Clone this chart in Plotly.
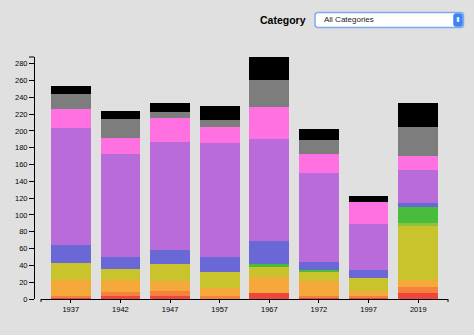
import plotly.graph_objects as go

years = ["1937", "1942", "1947", "1957", "1967", "1972", "1997", "2019"]

red        = [1, 4, 4, 1, 7, 1, 1, 7]
darkorange = [3, 4, 5, 2, 0, 3, 3, 7]
orange     = [19, 15, 13, 10, 19, 17, 5, 9]
yellow     = [20, 13, 20, 19, 12, 12, 16, 64]
lightgreen = [0, 0, 0, 0, 0, 0, 0, 4]
green      = [0, 0, 0, 0, 4, 2, 0, 19]
blue       = [21, 14, 16, 18, 27, 9, 10, 4]
purple     = [139, 122, 129, 136, 122, 106, 54, 39]
pink       = [23, 20, 28, 19, 38, 22, 26, 17]
gray       = [18, 22, 7, 8, 32, 17, 0, 35]
black      = [10, 10, 11, 17, 27, 13, 8, 28]

series = [
    ("Red", red, "#ef453c"),
    ("Dark orange", darkorange, "#f5813c"),
    ("Orange", orange, "#f5a93b"),
    ("Yellow", yellow, "#c9c42b"),
    ("Light green", lightgreen, "#8dc23c"),
    ("Green", green, "#47bd3b"),
    ("Blue", blue, "#6a68d6"),
    ("Purple", purple, "#b96bd9"),
    ("Pink", pink, "#ff70e0"),
    ("Gray", gray, "#7d7d7d"),
    ("Black", black, "#000000"),
]

fig = go.Figure()
for name, vals, col in series:
    fig.add_trace(go.Bar(x=years, y=vals, name=name, marker=dict(color=col, line=dict(width=0))))

ymax = max(sum(v[i] for _, v, _ in series) for i in range(len(years)))

W, H = 474, 335
ml, mr, mt, mb = 34, 26, 57, 36
pw = W - ml - mr
ph = H - mt - mb
xd0 = 7 / pw
FONT = "Liberation Sans, Arial, Helvetica, sans-serif"

fig.update_layout(
    width=W, height=H,
    margin=dict(l=ml, r=mr, t=mt, b=mb),
    barmode="stack", bargap=0.2,
    showlegend=False,
    paper_bgcolor="#e0e0e0", plot_bgcolor="#e0e0e0",
    font=dict(family=FONT, size=8, color="#000"),
    xaxis=dict(
        type="category", domain=[xd0, 1], range=[-0.6, 7.6],
        showline=True, linecolor="#000", linewidth=1,
        ticks="outside", ticklen=3, tickcolor="#000",
        showgrid=False, zeroline=False, fixedrange=True,
        tickfont=dict(size=7.5, color="#000"),
    ),
    yaxis=dict(
        anchor="free", position=0, range=[0, ymax],
        tickvals=list(range(0, 281, 20)),
        showline=True, linecolor="#000", linewidth=1,
        ticks="outside", ticklen=5, tickcolor="#000",
        showgrid=False, zeroline=False, fixedrange=True,
        tickfont=dict(size=7.5, color="#000"),
    ),
)

def px(x):
    return (x - ml) / pw

def py(y):
    return (H - mb - y) / ph

def rounded(x0, y0, x1, y1, r):
    # pixel coords -> paper path with rounded corners
    rx = r / pw
    ry = r / ph
    X0, X1 = px(x0), px(x1)
    Yt, Yb = py(y0), py(y1)
    return (f"M {X0+rx},{Yt} L {X1-rx},{Yt} Q {X1},{Yt} {X1},{Yt-ry} "
            f"L {X1},{Yb+ry} Q {X1},{Yb} {X1-rx},{Yb} "
            f"L {X0+rx},{Yb} Q {X0},{Yb} {X0},{Yb+ry} "
            f"L {X0},{Yt-ry} Q {X0},{Yt} {X0+rx},{Yt} Z")

shapes = [
    # outer ticks
    dict(type="line", xref="paper", yref="paper", x0=-5 / pw, x1=0, y0=1, y1=1, line=dict(color="#000", width=1)),
    dict(type="line", xref="paper", yref="paper", x0=xd0, x1=xd0, y0=0, y1=-3 / ph, line=dict(color="#000", width=1)),
    dict(type="line", xref="paper", yref="paper", x0=1, x1=1, y0=0, y1=-3 / ph, line=dict(color="#000", width=1)),
    # dropdown box
    dict(type="path", xref="paper", yref="paper", path=rounded(315, 12.5, 463.5, 27.5, 3),
         fillcolor="#ffffff", line=dict(color="#7eaaf2", width=1.5)),
    dict(type="path", xref="paper", yref="paper", path=rounded(453.5, 13.5, 462.5, 26.5, 2.5),
         fillcolor="#3d84f2", line=dict(color="#3d84f2", width=0.5)),
]
fig.update_layout(shapes=shapes)

fig.add_annotation(text="<b>Category</b>", xref="paper", yref="paper", x=px(308), y=py(19.5),
                   xanchor="right", yanchor="middle", showarrow=False,
                   font=dict(size=10.5, color="#000", family=FONT))
fig.add_annotation(text="All Categories", xref="paper", yref="paper", x=px(322), y=py(19.8),
                   xanchor="left", yanchor="middle", showarrow=False,
                   font=dict(size=8, color="#1a1a1a", family=FONT))
fig.add_annotation(text="⬍", xref="paper", yref="paper", x=px(458), y=py(20),
                   xanchor="center", yanchor="middle", showarrow=False,
                   font=dict(size=7, color="#ffffff", family="DejaVu Sans"))

fig.write_html("out.html")
